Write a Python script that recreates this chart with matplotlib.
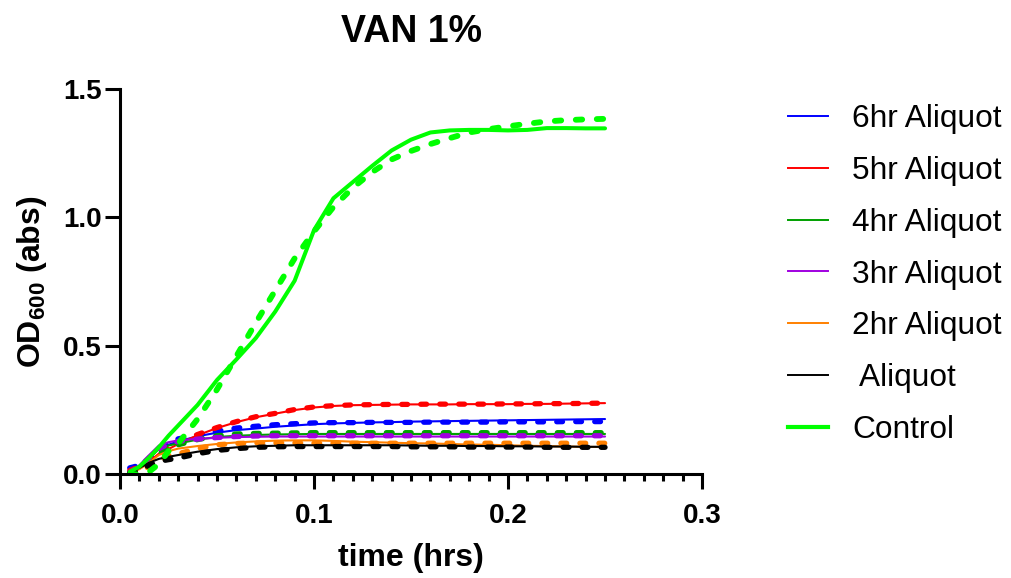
import numpy as np
import matplotlib
matplotlib.use('Agg')
import matplotlib.pyplot as plt
from matplotlib.lines import Line2D
from matplotlib.ticker import MultipleLocator

plt.rcParams['font.family'] = ['Liberation Sans', 'DejaVu Sans']
plt.rcParams['mathtext.fontset'] = 'custom'
plt.rcParams['mathtext.rm'] = 'Liberation Sans'
plt.rcParams['mathtext.bf'] = 'Liberation Sans:bold'

# sampling times (hrs)
time = [0.005, 0.01, 0.015, 0.02, 0.025, 0.03, 0.04, 0.05, 0.06, 0.07,
        0.08, 0.09, 0.1, 0.11, 0.12, 0.13, 0.14, 0.15, 0.16, 0.17,
        0.18, 0.19, 0.2, 0.21, 0.22, 0.23, 0.24, 0.25]

# OD600 readings, two replicates per condition (solid / dashed)
hr6_a = [0.01, 0.03, 0.06, 0.10, 0.115, 0.128, 0.148, 0.162, 0.172, 0.178,
         0.185, 0.19, 0.195, 0.198, 0.20, 0.202, 0.203, 0.205, 0.206, 0.207,
         0.208, 0.209, 0.21, 0.211, 0.212, 0.213, 0.214, 0.215]
hr6_b = [0.025, 0.035, 0.06, 0.095, 0.12, 0.138, 0.152, 0.168, 0.18, 0.187,
         0.193, 0.197, 0.20, 0.201, 0.201, 0.202, 0.202, 0.202, 0.203, 0.203,
         0.203, 0.203, 0.204, 0.204, 0.204, 0.205, 0.205, 0.205]
hr5_a = [0.012, 0.028, 0.05, 0.08, 0.098, 0.118, 0.152, 0.18, 0.203, 0.222,
         0.236, 0.25, 0.26, 0.266, 0.269, 0.27, 0.271, 0.272, 0.272, 0.272,
         0.273, 0.273, 0.273, 0.274, 0.274, 0.275, 0.276, 0.277]
hr5_b = [0.015, 0.03, 0.055, 0.085, 0.10, 0.12, 0.155, 0.182, 0.205, 0.224,
         0.237, 0.252, 0.262, 0.267, 0.27, 0.271, 0.272, 0.272, 0.273, 0.273,
         0.273, 0.273, 0.274, 0.274, 0.275, 0.275, 0.276, 0.277]
hr4_a = [0.008, 0.025, 0.06, 0.10, 0.112, 0.12, 0.135, 0.145, 0.15, 0.153,
         0.155, 0.156, 0.157, 0.157, 0.157, 0.157, 0.157, 0.157, 0.157, 0.157,
         0.157, 0.157, 0.157, 0.157, 0.157, 0.157, 0.157, 0.157]
hr4_b = [0.005, 0.02, 0.045, 0.08, 0.10, 0.115, 0.135, 0.15, 0.157, 0.159,
         0.16, 0.161, 0.162, 0.162, 0.162, 0.162, 0.162, 0.162, 0.162, 0.162,
         0.162, 0.162, 0.162, 0.162, 0.162, 0.162, 0.162, 0.162]
hr3_a = [0.01, 0.035, 0.075, 0.112, 0.125, 0.132, 0.138, 0.142, 0.145, 0.146,
         0.147, 0.147, 0.147, 0.147, 0.147, 0.147, 0.147, 0.147, 0.147, 0.147,
         0.147, 0.147, 0.147, 0.147, 0.147, 0.147, 0.147, 0.147]
hr3_b = [0.008, 0.03, 0.065, 0.10, 0.118, 0.128, 0.137, 0.143, 0.147, 0.149,
         0.15, 0.15, 0.15, 0.15, 0.15, 0.15, 0.15, 0.15, 0.15, 0.15,
         0.15, 0.15, 0.15, 0.15, 0.15, 0.15, 0.15, 0.15]
hr2_a = [0.005, 0.02, 0.045, 0.075, 0.09, 0.10, 0.11, 0.118, 0.124, 0.128,
         0.131, 0.132, 0.132, 0.13, 0.127, 0.125, 0.123, 0.121, 0.12, 0.118,
         0.116, 0.115, 0.113, 0.111, 0.11, 0.108, 0.107, 0.106]
hr2_b = [0.0, 0.01, 0.03, 0.055, 0.072, 0.08, 0.10, 0.115, 0.12, 0.122,
         0.122, 0.122, 0.121, 0.121, 0.121, 0.121, 0.121, 0.121, 0.121, 0.121,
         0.121, 0.121, 0.121, 0.121, 0.121, 0.121, 0.121, 0.121]
hr0_a = [0.01, 0.025, 0.045, 0.06, 0.068, 0.075, 0.088, 0.098, 0.105, 0.109,
         0.111, 0.113, 0.113, 0.113, 0.113, 0.113, 0.113, 0.112, 0.111, 0.111,
         0.11, 0.11, 0.109, 0.109, 0.108, 0.108, 0.107, 0.107]
hr0_b = [0.005, 0.015, 0.035, 0.05, 0.057, 0.063, 0.08, 0.093, 0.10, 0.105,
         0.107, 0.108, 0.108, 0.108, 0.108, 0.108, 0.108, 0.107, 0.107, 0.107,
         0.106, 0.106, 0.106, 0.106, 0.105, 0.105, 0.105, 0.105]
ctrl_a = [0.01, 0.03, 0.065, 0.105, 0.15, 0.19, 0.27, 0.367, 0.447, 0.53,
          0.633, 0.753, 0.95, 1.074, 1.137, 1.20, 1.26, 1.302, 1.33, 1.338,
          1.34, 1.34, 1.338, 1.34, 1.347, 1.347, 1.346, 1.346]
ctrl_b = [0.0, 0.0, 0.01, 0.04, 0.09, 0.12, 0.215, 0.33, 0.46, 0.59,
          0.715, 0.84, 0.945, 1.04, 1.115, 1.176, 1.225, 1.258, 1.285, 1.308,
          1.33, 1.343, 1.354, 1.364, 1.373, 1.378, 1.381, 1.383]

labels = ['6hr Aliquot', '5hr Aliquot', '4hr Aliquot', '3hr Aliquot',
          '2hr Aliquot', ' Aliquot', 'Control']
colors = ['#0000FF', '#FF0000', '#00A000', '#A000E0', '#FF8000', '#000000', '#00FF00']
series = [(hr6_a, hr6_b), (hr5_a, hr5_b), (hr4_a, hr4_b), (hr3_a, hr3_b),
          (hr2_a, hr2_b), (hr0_a, hr0_b), (ctrl_a, ctrl_b)]

fig = plt.figure(figsize=(10.11, 5.78), dpi=100)
ax = fig.add_axes([0.1187, 0.1794, 0.5757, 0.667])

for (a, b), c, lab in zip(series, colors, labels):
    thick = lab == 'Control'
    ax.plot(time, a, color=c, lw=2.9 if thick else 1.5,
            solid_joinstyle='round', solid_capstyle='round')
    ax.plot(time, b, color=c, lw=4.2 if thick else 3.8,
            dashes=(1.1, 2.5), dash_capstyle='round')

ax.set_xlim(0, 0.3)
ax.set_ylim(0, 1.5)
ax.xaxis.set_major_locator(MultipleLocator(0.1))
ax.xaxis.set_minor_locator(MultipleLocator(0.01))
ax.yaxis.set_major_locator(MultipleLocator(0.5))
ax.xaxis.set_major_formatter(plt.FormatStrFormatter('%.1f'))
ax.yaxis.set_major_formatter(plt.FormatStrFormatter('%.1f'))

for s in ['top', 'right']:
    ax.spines[s].set_visible(False)
for s in ['left', 'bottom']:
    ax.spines[s].set_linewidth(2.2)
ax.tick_params(which='major', length=10.8, width=2.2, labelsize=20)
ax.tick_params(axis='x', which='major', pad=10)
ax.tick_params(axis='y', which='major', pad=2.5)
ax.tick_params(which='minor', length=5, width=2.2)
for t in ax.get_xticklabels() + ax.get_yticklabels():
    t.set_fontweight('bold')

ax.set_title('VAN 1%', fontsize=27, fontweight='bold', pad=34)
ax.set_xlabel('time (hrs)', fontsize=23, fontweight='bold', labelpad=10)
ax.set_ylabel(r'$\mathbf{OD_{600}}$ (abs)', fontsize=23, fontweight='bold', labelpad=10)

handles = [Line2D([], [], color=c, lw=3 if lab == 'Control' else 1.4)
           for c, lab in zip(colors, labels)]
fig.legend(handles, labels, loc='upper left', bbox_to_anchor=(788 / 1011, 1 - 104 / 578),
           bbox_transform=fig.transFigure, frameon=False, fontsize=22.8,
           handlelength=1.27, handletextpad=0.76, labelspacing=0.69,
           borderpad=0, borderaxespad=0)

fig.savefig('out.png', dpi=100)
